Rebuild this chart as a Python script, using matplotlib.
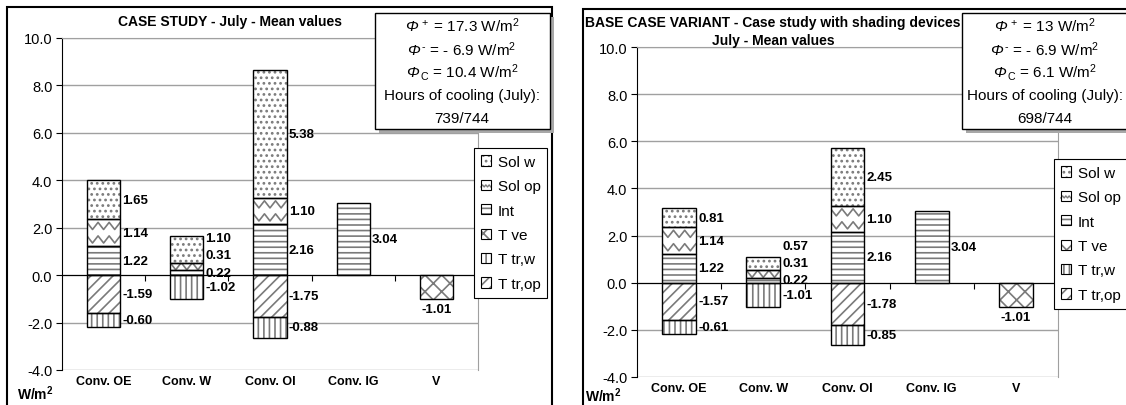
import numpy as np
import matplotlib
matplotlib.use('Agg')
import matplotlib.pyplot as plt
from matplotlib.patches import Rectangle, Patch
from matplotlib.lines import Line2D
from matplotlib.legend_handler import HandlerBase
from matplotlib.transforms import blended_transform_factory

plt.rcParams['font.family'] = ['Liberation Sans', 'DejaVu Sans']
plt.rcParams['mathtext.fontset'] = 'custom'
plt.rcParams['mathtext.rm'] = 'Liberation Sans'
plt.rcParams['mathtext.it'] = 'Liberation Sans:italic'
plt.rcParams['mathtext.bf'] = 'Liberation Sans:bold'
plt.rcParams['hatch.linewidth'] = 1.2

# data
categories = ['Conv. OE', 'Conv. W', 'Conv. OI', 'Conv. IG', 'V']
series = ['Sol w', 'Sol op', 'Int', 'T ve', 'T tr,w', 'T tr,op']

# case study
int_a = [1.22, 0.22, 2.16, 3.04, 0]
sol_op_a = [1.14, 0.31, 1.10, 0, 0]
sol_w_a = [1.65, 1.10, 5.38, 0, 0]
t_ve_a = [0, 0, 0, 0, -1.01]
t_trop_a = [-1.59, 0, -1.75, 0, 0]
t_trw_a = [-0.60, -1.02, -0.88, 0, 0]

# base case variant (shading devices)
int_b = [1.22, 0.22, 2.16, 3.04, 0]
sol_op_b = [1.14, 0.31, 1.10, 0, 0]
sol_w_b = [0.81, 0.57, 2.45, 0, 0]
t_ve_b = [0, 0, 0, 0, -1.01]
t_trop_b = [-1.57, 0, -1.78, 0, 0]
t_trw_b = [-0.61, -1.01, -0.85, 0, 0]

info_a = ['17.3', '- 6.9', '10.4', '739/744']
info_b = ['13', '- 6.9', '6.1', '698/744']

W, H = 1126, 406
HATCH_GREY = '#7a7a7a'
hatches = {'Sol w': '...', 'Sol op': None, 'Int': '---', 'T ve': 'xx',
           'T tr,w': '|||', 'T tr,op': '///'}
BW = 0.4
LAB_FS = 9.5


def fig_rect(fig, x0, y0, x1, y1, **kw):
    r = Rectangle((x0 / W, 1 - y1 / H), (x1 - x0) / W, (y1 - y0) / H,
                  transform=fig.transFigure, clip_on=False, **kw)
    fig.add_artist(r)
    return r


def zigzag(ax, rect, x0, y0, w, h):
    n = max(1, int(round(h / 0.5)))
    per = w / 3.0
    xs = np.arange(x0 - per, x0 + w + per, per / 2.0)
    tri = np.array([(-1) ** k for k in range(len(xs))]) * 0.15
    for k in range(n):
        yc = y0 + h * (k + 0.5) / n
        ln = Line2D(xs, yc + tri, color=HATCH_GREY, lw=1.2, zorder=2.5)
        ax.add_line(ln)
        ln.set_clip_path(rect)


def draw_segment(ax, name, x, bottom, val):
    h = hatches[name]
    r = ax.bar(x, val, BW, bottom=bottom, color='white', edgecolor=HATCH_GREY,
               lw=0, hatch=h, zorder=2)[0]
    ax.bar(x, val, BW, bottom=bottom, facecolor='none', edgecolor='black',
           lw=1, zorder=3)
    if name == 'Sol op':
        zigzag(ax, r, x - BW / 2, min(bottom, bottom + val), BW, abs(val))


def spread(ys, gap, up=True):
    out = []
    for y in ys:
        if out:
            if up:
                y = max(y, out[-1] + gap)
            else:
                y = min(y, out[-1] - gap)
        out.append(y)
    return out


def chart(ax, data):
    x = np.arange(len(categories))
    for i in x:
        pos = [(n, data[n][i]) for n in ['Int', 'Sol op', 'Sol w'] if data[n][i] > 0]
        neg = [(n, data[n][i]) for n in ['T tr,op', 'T tr,w', 'T ve'] if data[n][i] < 0]
        lab_pos, lab_neg = [], []
        b = 0
        for n, v in pos:
            draw_segment(ax, n, i, b, v)
            lab_pos.append((b + v / 2, v))
            b += v
        b = 0
        for n, v in neg:
            draw_segment(ax, n, i, b, v)
            if n == 'T ve':
                ax.annotate('%.2f' % v, (i, b + v), xytext=(0, -3),
                            textcoords='offset points', ha='center', va='top',
                            fontsize=LAB_FS, fontweight='bold')
            else:
                lab_neg.append((b + v / 2, v))
            b += v
        ys = spread([p[0] for p in lab_pos], 0.72, up=True)
        for y, (_, v) in zip(ys, lab_pos):
            ax.annotate('%.2f' % v, (i + BW / 2, y), xytext=(1.5, 0),
                        textcoords='offset points', ha='left', va='center',
                        fontsize=LAB_FS, fontweight='bold')
        ys = spread([p[0] for p in lab_neg], 0.72, up=False)
        for y, (_, v) in zip(ys, lab_neg):
            ax.annotate('%.2f' % v, (i + BW / 2, y), xytext=(1.5, 0),
                        textcoords='offset points', ha='left', va='center',
                        fontsize=LAB_FS, fontweight='bold')

    ax.set_xlim(-0.5, 4.5)
    ax.set_ylim(-4, 10)
    ticks = np.arange(-4, 10.1, 2)
    ax.set_yticks(ticks)
    ax.set_yticklabels(['%.1f' % t for t in ticks], fontsize=10.5)
    ax.yaxis.grid(True, color='#a0a0a0', lw=1)
    ax.set_axisbelow(True)
    ax.spines['bottom'].set_position(('data', 0))
    ax.spines['bottom'].set_color('black')
    ax.spines['top'].set_color('#a0a0a0')
    ax.spines['right'].set_color('#a0a0a0')
    ax.set_xticks(np.arange(0.5, 4.6, 1))
    ax.set_xticklabels([])
    ax.tick_params(axis='x', length=4, direction='out', color='black')
    ax.tick_params(axis='y', length=4, direction='out', pad=3)
    trans = blended_transform_factory(ax.transData, ax.transAxes)
    for i, c in enumerate(categories):
        ax.text(i, -0.033, c, transform=trans, ha='center', va='center',
                fontsize=9, fontweight='bold')


class BoxHandler(HandlerBase):
    def __init__(self, hatch=None, wavy=False):
        super().__init__()
        self.hatch = hatch
        self.wavy = wavy

    def create_artists(self, legend, orig_handle, xdescent, ydescent,
                       width, height, fontsize, trans):
        x0, y0 = -xdescent, -ydescent
        arts = [Rectangle((x0, y0), width, height, facecolor='white',
                          edgecolor=HATCH_GREY, lw=0, hatch=self.hatch,
                          transform=trans)]
        if self.wavy:
            xs = np.linspace(x0, x0 + width, 7)
            ys = y0 + height * (0.3 + 0.2 * (np.arange(7) % 2))
            arts.append(Line2D(xs, ys, color=HATCH_GREY, lw=1, transform=trans))
        arts.append(Rectangle((x0, y0), width, height, facecolor='none',
                              edgecolor='black', lw=0.8, transform=trans))
        return arts


def add_legend(ax, fig, x, y):
    handles, hmap = [], {}
    for n in series:
        p = Patch(label=n)
        handles.append(p)
        hmap[p] = BoxHandler(hatches[n], wavy=(n == 'Sol op'))
    leg = ax.legend(handles=handles, handler_map=hmap, loc='upper left',
                    bbox_to_anchor=(x / W, 1 - y / H), bbox_transform=fig.transFigure,
                    fontsize=11, fancybox=False, framealpha=1, edgecolor='black',
                    borderaxespad=0, handlelength=0.65, handleheight=0.65,
                    handletextpad=0.45, labelspacing=0.68, borderpad=0.45)
    leg.get_frame().set_linewidth(0.8)
    leg.set_zorder(10)


def info_box(fig, x0, x1, cx, vals):
    fig_rect(fig, x0 + 4, 18, x1 + 4, 134, facecolor='#a8a8a8', edgecolor='none', zorder=20)
    fig_rect(fig, x0, 14, x1, 130, facecolor='white', edgecolor='black', lw=1, zorder=21)
    # Phi in italic plain text, the rest upright through mathtext \text{}
    phi = [r'Φ$^{\,+}\text{ = %s W/m}^{2}$' % vals[0],
           r'Φ$^{\,\text{-}}\text{ = %s W/m}^{2}$' % vals[1],
           r'Φ$_{\,\text{C}}\text{ = %s W/m}^{2}$' % vals[2]]
    for k, t in enumerate(phi):
        fig.text(cx / W, 1 - (26 + 23.3 * k) / H, t, ha='center', va='center',
                 fontsize=11, fontstyle='italic', zorder=22)
    for k, t in enumerate(['Hours of cooling (July):', vals[3]]):
        fig.text(cx / W, 1 - (26 + 23.3 * (k + 3)) / H, t, ha='center', va='center',
                 fontsize=11, zorder=22)


fig = plt.figure(figsize=(11.26, 4.06), dpi=100)

# chart frames
fig_rect(fig, 7, 8, 552, 460, facecolor='none', edgecolor='black', lw=1.5)
fig_rect(fig, 583, 10, 1200, 460, facecolor='none', edgecolor='black', lw=1.5)

ax1 = fig.add_axes([62 / W, 1 - 371 / H, 416 / W, 332 / H])
ax2 = fig.add_axes([637 / W, 1 - 378 / H, 421 / W, 330 / H])

data_a = {'Sol w': sol_w_a, 'Sol op': sol_op_a, 'Int': int_a, 'T ve': t_ve_a,
          'T tr,w': t_trw_a, 'T tr,op': t_trop_a}
data_b = {'Sol w': sol_w_b, 'Sol op': sol_op_b, 'Int': int_b, 'T ve': t_ve_b,
          'T tr,w': t_trw_b, 'T tr,op': t_trop_b}

chart(ax1, data_a)
chart(ax2, data_b)
add_legend(ax1, fig, 474, 149)
add_legend(ax2, fig, 1054, 160)

fig.text(230 / W, 1 - 22 / H, 'CASE STUDY - July - Mean values', ha='center',
         va='center', fontsize=10, fontweight='bold')
fig.text(773 / W, 1 - 23 / H, 'BASE CASE VARIANT - Case study with shading devices',
         ha='center', va='center', fontsize=10, fontweight='bold')
fig.text(773 / W, 1 - 41 / H, 'July - Mean values',
         ha='center', va='center', fontsize=10, fontweight='bold')

info_box(fig, 375, 550, 462, info_a)
info_box(fig, 962, 1140, 1045, info_b)

fig.text(35 / W, 1 - 394 / H, r'W/m$^\mathbf{2}$', ha='center', va='center',
         fontsize=10, fontweight='bold')
fig.text(603 / W, 1 - 396 / H, r'W/m$^\mathbf{2}$', ha='center', va='center',
         fontsize=10, fontweight='bold')

plt.savefig('out.png', dpi=100)
